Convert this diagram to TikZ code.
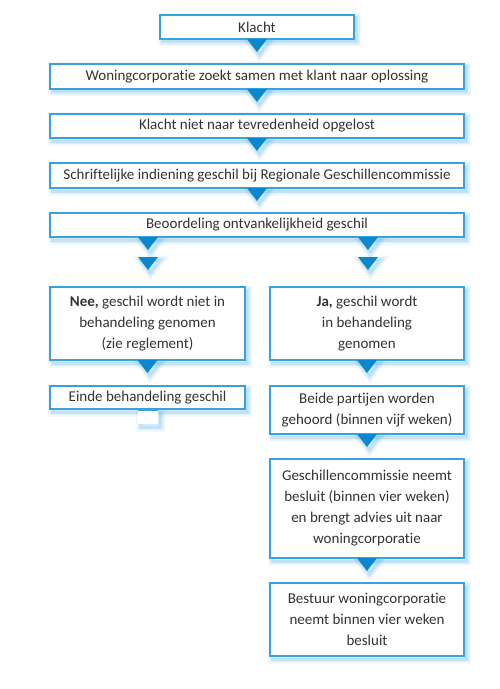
\documentclass[tikz,border=0pt]{standalone}
\usepackage{fontspec}
\setmainfont{Carlito}[Ligatures=NoCommon]
\usetikzlibrary{calc}
\definecolor{bordblue}{HTML}{3AA0DE}
\definecolor{glowblue}{HTML}{5AB4EA}
\definecolor{triblue}{HTML}{0A88CF}
\definecolor{txt}{HTML}{333333}
\begin{document}
\begin{tikzpicture}[x=1bp,y=-1bp,
  glow/.style={
    preaction={draw=glowblue, line width=9bp, draw opacity=0.08, fill=glowblue, fill opacity=0.08, transform canvas={xshift=2.5bp, yshift=-3bp}},
    preaction={draw=glowblue, line width=6bp, draw opacity=0.12, transform canvas={xshift=2.5bp, yshift=-3bp}},
    preaction={draw=glowblue, line width=3bp, draw opacity=0.2, transform canvas={xshift=2.5bp, yshift=-3bp}}},
  box/.style={draw=bordblue, line width=1.2bp, fill=white, glow, text=txt, align=center,
    inner sep=0pt, outer sep=0pt, anchor=north west, font=\fontsize{15bp}{21bp}\selectfont},
  tri/.style={fill=triblue, glow}]
\useasboundingbox (0,0) rectangle (500,689);
\fill[white] (0,0) rectangle (500,689);
% boxes
\node[box, minimum width=194bp, minimum height=24bp] (klacht) at (160,15) {Klacht};
\node[box, minimum width=414bp, minimum height=25bp] (zoekt) at (50,64) {Woningcorporatie zoekt samen met klant naar oplossing};
\node[box, minimum width=414bp, minimum height=24bp] (niet) at (50,114) {Klacht niet naar tevredenheid opgelost};
\node[box, minimum width=414bp, minimum height=25bp] (indien) at (50,163) {Schriftelijke indiening geschil bij Regionale Geschillencommissie};
\node[box, minimum width=414bp, minimum height=24bp] (beoord) at (50,213) {Beoordeling ontvankelijkheid geschil};
\coordinate (cl) at (148,257);
\coordinate (cr) at (368,257);
\node[box, minimum width=195bp, minimum height=73bp] (nee) at (50,287) {\textbf{Nee,} geschil wordt niet in\\behandeling genomen\\(zie reglement)};
\node[box, minimum width=195bp, minimum height=23bp] (einde) at (50,386) {Einde behandeling geschil};
\node[box, minimum width=194bp, minimum height=73bp] (ja) at (270,287) {\textbf{Ja,} geschil wordt\\in behandeling\\genomen};
\node[box, minimum width=194bp, minimum height=48bp] (beide) at (270,386) {Beide partijen worden\\gehoord (binnen vijf weken)};
\node[box, minimum width=194bp, minimum height=99bp] (gesch) at (270,459) {Geschillencommissie neemt\\besluit (binnen vier weken)\\en brengt advies uit naar\\woningcorporatie};
\node[box, minimum width=194bp, minimum height=73bp] (bestuur) at (270,583) {Bestuur woningcorporatie\\neemt binnen vier weken\\besluit};
% connectors (triangles)
\newcommand{\downtri}[1]{\fill[tri] ($#1+(-10,0)$) -- ($#1+(10,0)$) -- ($#1+(0,13)$) -- cycle;}
\downtri{(klacht.south)}
\downtri{(zoekt.south)}
\downtri{(niet.south)}
\downtri{(indien.south)}
\downtri{(beoord.south -| cl)}
\downtri{(beoord.south -| cr)}
\downtri{(cl)}
\downtri{(cr)}
\downtri{(nee.south)}
\downtri{(ja.south)}
\downtri{(beide.south)}
\downtri{(gesch.south)}
% stub under Einde
\fill[white, glow] (138,410) rectangle (158,424);
\draw[bordblue, line width=1bp] (138,410.5) -- (158,410.5);
\end{tikzpicture}
\end{document}
